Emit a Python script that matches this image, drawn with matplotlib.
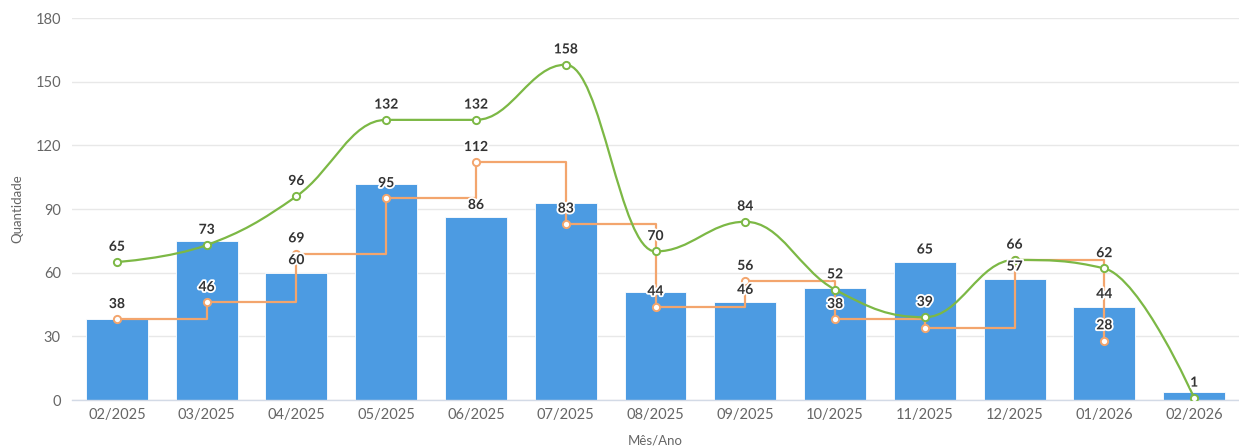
import matplotlib
matplotlib.use("Agg")
import matplotlib.pyplot as plt
import matplotlib.patheffects as pe
from matplotlib.path import Path
from matplotlib.patches import PathPatch
import numpy as np

plt.rcParams['font.family'] = ['Lato', 'DejaVu Sans']

categories = ["02/2025", "03/2025", "04/2025", "05/2025", "06/2025", "07/2025",
              "08/2025", "09/2025", "10/2025", "11/2025", "12/2025", "01/2026", "02/2026"]
bar_values = [38, 75, 60, 102, 86, 93, 51, 46, 53, 65, 57, 44, 4]
step_values = [38, 46, 69, 95, 112, 83, 44, 56, 38, 34, 66, 28]
spline_values = [65, 73, 96, 132, 132, 158, 70, 84, 52, 39, 66, 62, 1]

# which data labels are visible (others are hidden by overlap in the original)
bar_label_shown = [False, False, True, False, True, False, False, True, False, True, True, True, False]
step_label_shown = [True, True, True, True, True, True, True, True, True, False, True, True]
spline_label_shown = [True, True, True, True, True, True, True, True, True, True, False, True, True]

yticks = [0, 30, 60, 90, 120, 150, 180]

BAR_COLOR = "#4c9be2"
GREEN = "#7cb845"
ORANGE = "#f3a56d"
TXT = "#333333"
TICK = "#666666"

fig = plt.figure(figsize=(12.39, 4.48), dpi=100)
ax = fig.add_axes([72 / 1239, 48 / 448, 1 - 72 / 1239, 382 / 448])

x = np.arange(len(categories))
ax.bar(x, bar_values, width=0.69, color=BAR_COLOR, edgecolor="white", linewidth=0.6, zorder=2)

# step line (orange)
xs = x[:len(step_values)]
ax.step(xs, step_values, where="post", color=ORANGE, lw=1.6, zorder=3)
ax.plot(xs, step_values, ls="none", marker="o", ms=5.2, mfc="white", mec=ORANGE, mew=1.4, zorder=4)


# spline line (green), Highcharts-style spline
def spline_path(xv, yv):
    n = len(xv)
    sm = 1.5
    den = sm + 1
    rc = [None] * n
    verts = [(xv[0], yv[0])]
    codes = [Path.MOVETO]
    for i in range(1, n):
        px, py = xv[i], yv[i]
        lx, ly = xv[i - 1], yv[i - 1]
        lcx, lcy = px, py
        if i + 1 < n:
            nx, ny = xv[i + 1], yv[i + 1]
            lcx = (sm * px + lx) / den
            lcy = (sm * py + ly) / den
            rcx = (sm * px + nx) / den
            rcy = (sm * py + ny) / den
            corr = 0
            if rcx != lcx:
                corr = (rcy - lcy) * (rcx - px) / (rcx - lcx) + py - rcy
            lcy += corr
            rcy += corr
            if lcy > ly and lcy > py:
                lcy = max(ly, py); rcy = 2 * py - lcy
            elif lcy < ly and lcy < py:
                lcy = min(ly, py); rcy = 2 * py - lcy
            if rcy > ny and rcy > py:
                rcy = max(ny, py); lcy = 2 * py - rcy
            elif rcy < ny and rcy < py:
                rcy = min(ny, py); lcy = 2 * py - rcy
            rc[i] = (rcx, rcy)
        c1 = rc[i - 1] if rc[i - 1] is not None else (lx, ly)
        verts += [c1, (lcx, lcy), (px, py)]
        codes += [Path.CURVE4] * 3
    return Path(verts, codes)


ax.add_patch(PathPatch(spline_path(list(map(float, x)), list(map(float, spline_values))),
                       fill=False, edgecolor=GREEN, lw=1.6, zorder=5))
ax.plot(x, spline_values, ls="none", marker="o", ms=5.2, mfc="white", mec=GREEN, mew=1.4, zorder=6)

halo = [pe.withStroke(linewidth=2.6, foreground="white")]


def put_labels(vals, shown, off):
    for i, (v, s) in enumerate(zip(vals, shown)):
        if s:
            ax.annotate(str(v), (x[i], v), xytext=(0, off), textcoords="offset points",
                        ha="center", va="center", fontsize=10, fontweight="bold",
                        color=TXT, path_effects=halo, zorder=10)


put_labels(bar_values, bar_label_shown, 9)
put_labels(step_values, step_label_shown, 11)
put_labels(spline_values, spline_label_shown, 11)

ax.set_xlim(-0.5, len(categories) - 0.5)
ax.set_ylim(0, 180)
ax.set_yticks(yticks)
ax.set_yticklabels([str(t) for t in yticks])
ax.set_xticks(x)
ax.set_xticklabels(categories)
ax.tick_params(axis="both", length=0, colors=TICK, labelsize=10.5)
ax.tick_params(axis="y", pad=8)
ax.tick_params(axis="x", pad=6)
ax.grid(axis="y", color="#e8e8e8", lw=1, zorder=0)
ax.set_axisbelow(True)
for s in ["top", "right", "left"]:
    ax.spines[s].set_visible(False)
ax.spines["bottom"].set_color("#d3dae6")
ax.spines["bottom"].set_linewidth(1)

ax.set_ylabel("Quantidade", color=TICK, fontsize=9.5)
ax.yaxis.set_label_coords(-0.047, 0.5)
ax.yaxis.label.set_va("center")
ax.set_xlabel("Mês/Ano", color=TICK, fontsize=9.5)
ax.xaxis.set_label_coords(0.5, -0.107)
ax.xaxis.label.set_va("center")

fig.savefig("out.png", dpi=100, facecolor="white")
